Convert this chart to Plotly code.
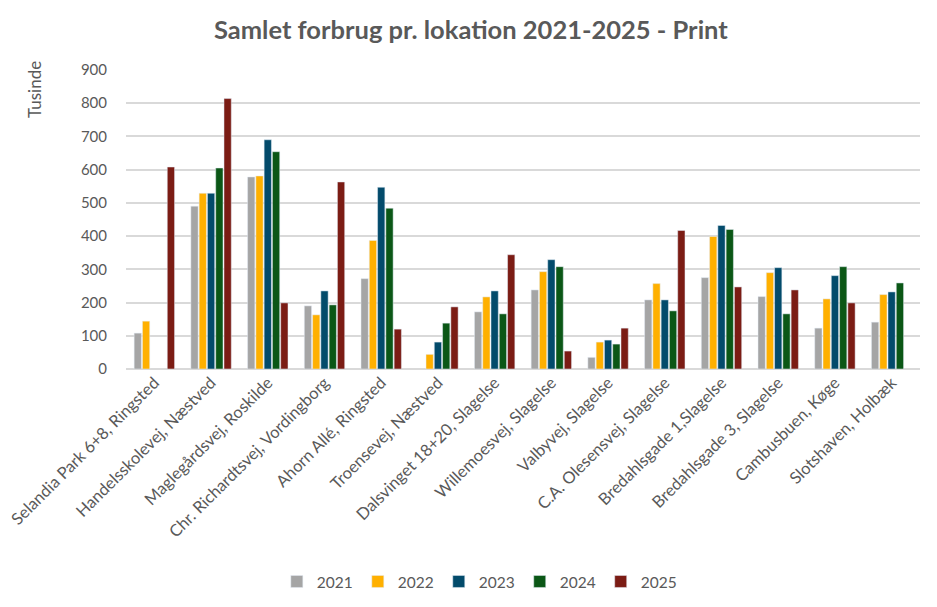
import plotly.graph_objects as go

locations = [
    "Selandia Park 6+8, Ringsted",
    "Handelsskolevej, Næstved",
    "Maglegårdsvej, Roskilde",
    "Chr. Richardtsvej, Vordingborg",
    "Ahorn Allé, Ringsted",
    "Troensevej, Næstved",
    "Dalsvinget 18+20, Slagelse",
    "Willemoesvej, Slagelse",
    "Valbyvej, Slagelse",
    "C.A. Olesensvej, Slagelse",
    "Bredahlsgade 1,Slagelse",
    "Bredahlsgade 3, Slagelse",
    "Cambusbuen, Køge",
    "Slotshaven, Holbæk",
]

# values in thousands (Tusinde)
y2021 = [108, 490, 578, 190, 272, None, 172, 238, 35, 208, 275, 218, 123, 141]
y2022 = [144, 529, 581, 163, 387, 44, 217, 293, 81, 257, 399, 290, 211, 224]
y2023 = [None, 529, 690, 235, 547, 81, 235, 329, 87, 208, 432, 305, 281, 232]
y2024 = [None, 605, 654, 193, 484, 138, 166, 308, 75, 175, 420, 166, 308, 259]
y2025 = [608, 814, 199, 563, 120, 187, 344, 54, 123, 417, 247, 238, 199, None]

series = [
    ("2021", y2021, "#A5A5A5"),
    ("2022", y2022, "#FFB000"),
    ("2023", y2023, "#034B6B"),
    ("2024", y2024, "#0B5716"),
    ("2025", y2025, "#7B1C14"),
]

fig = go.Figure()
for name, vals, col in series:
    fig.add_trace(go.Bar(x=locations, y=vals, name=name, marker_color=col))

grey = "#595959"
fig.update_layout(
    width=937,
    height=607,
    barmode="group",
    bargap=0.27,
    bargroupgap=0.12,
    plot_bgcolor="white",
    paper_bgcolor="white",
    font=dict(family="Lato, Open Sans, sans-serif", size=15, color=grey),
    title=dict(
        text="<b>Samlet forbrug pr. lokation 2021-2025 - Print</b>",
        x=0.494,
        xanchor="center",
        y=0.964,
        yanchor="middle",
        font=dict(size=25.5, color=grey),
    ),
    margin=dict(l=118, r=25, t=62, b=246),
    legend=dict(
        orientation="h",
        x=0.445,
        xanchor="center",
        y=-0.712,
        yanchor="middle",
        font=dict(size=15.5, color=grey),
        itemwidth=30,
    ),
    annotations=[
        dict(
            text="Tusinde",
            textangle=-90,
            xref="paper",
            yref="paper",
            x=-0.116,
            y=0.936,
            xanchor="center",
            yanchor="middle",
            showarrow=False,
            font=dict(size=17, color=grey),
        )
    ],
)

fig.update_yaxes(
    range=[0, 900],
    dtick=100,
    showgrid=True,
    gridcolor="#D9D9D9",
    gridwidth=1.5,
    zeroline=True,
    zerolinecolor="#D9D9D9",
    zerolinewidth=1.5,
    ticks="",
    ticklabelstandoff=18,
    tickfont=dict(size=15, color=grey),
)
fig.update_xaxes(
    tickangle=-45,
    automargin=False,
    showline=False,
    ticks="",
    tickfont=dict(size=16.5, color=grey),
)

fig.write_html("out.html")
